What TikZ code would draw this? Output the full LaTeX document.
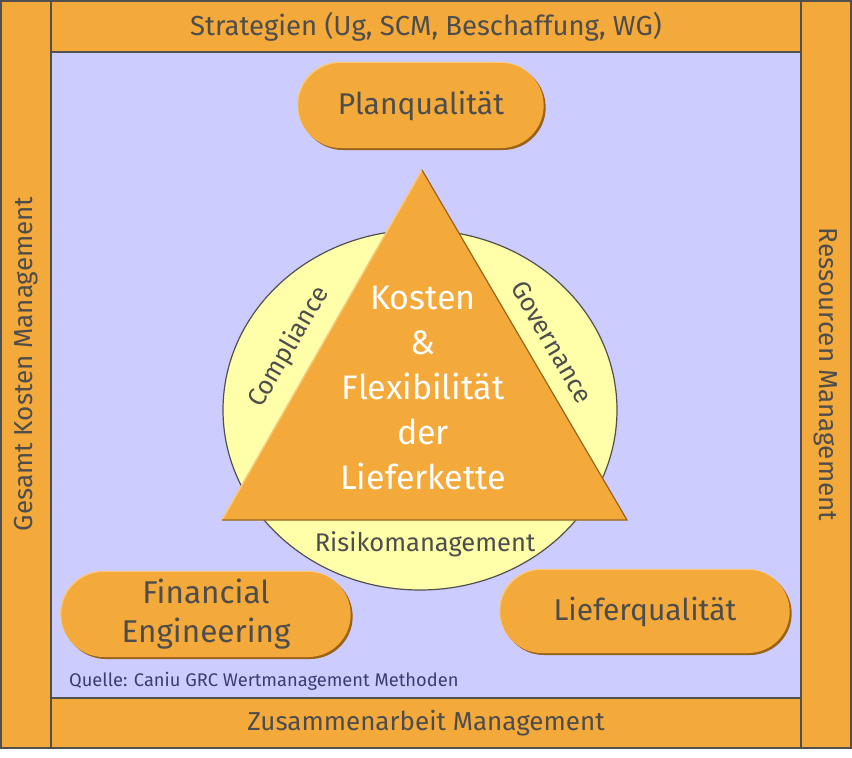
\documentclass[tikz,border=0pt]{standalone}
\usepackage{fontspec}
\setmainfont{Fira Sans}
\usetikzlibrary{positioning, shapes.geometric, shapes.misc, shadows}

\definecolor{panel}{HTML}{CCCCFF}
\definecolor{barorange}{HTML}{F4A93B}
\definecolor{lightorange}{HTML}{F9C878}
\definecolor{darkbrown}{HTML}{9A6418}
\definecolor{ringyellow}{HTML}{FFFFAA}
\definecolor{linegray}{HTML}{505050}
\definecolor{textgray}{HTML}{4D4D4D}
\definecolor{notecolor}{HTML}{3C3C6E}

\begin{document}
\begin{tikzpicture}[
    x = 1pt, y = -1pt,
    bar/.style = {rectangle, draw = linegray, line width = 1.8pt, fill = barorange,
                  text = textgray, font = \fontsize{26}{30}\selectfont, inner sep = 0pt},
    pill/.style = {rounded rectangle, fill = barorange, text = textgray, align = center,
                   font = \fontsize{30}{39}\selectfont,
                   general shadow = {shadow xshift = -1.2pt, shadow yshift = 1.2pt, fill = lightorange},
                   drop shadow = {shadow xshift = 2pt, shadow yshift = -2pt, fill = darkbrown, opacity = 1}},
    side/.style = {text = textgray, font = \fontsize{25.5}{28}\selectfont, inner sep = 0pt}
]

\useasboundingbox (0,0) rectangle (852,758);

% Panel and frame
\fill[panel] (51,52) rectangle (801,698);
\node[bar, minimum width = 750pt, minimum height = 51pt,
      font = \fontsize{27.5}{30}\selectfont]                           (strat)  at (426,26.5)  {Strategien (Ug, SCM, Beschaffung, WG)};
\node[bar, minimum width = 750pt, minimum height = 50pt]              (team)   at (426,723)   {Zusammenarbeit Management};
\node[bar, rotate = 90,  minimum width = 747pt, minimum height = 50pt] (total)  at (26,374.5)  {};
\node[bar, rotate = -90, minimum width = 747pt, minimum height = 50pt] (res)    at (826,374.5) {Ressourcen Management};
\node[bar, rotate = 90, draw = none, fill = none]                     (totaltext) at (26,364) {Gesamt Kosten Management};

% Ring
\node[ellipse, draw = linegray, line width = 1.2pt, fill = ringyellow,
      minimum width = 394pt, minimum height = 360pt] (ring) at (420,410) {};

% Triangle
\coordinate (apex) at (422,170);
\coordinate (bl)   at (222,520);
\coordinate (br)   at (627,520);
\fill[barorange] (apex) -- (bl) -- (br) -- cycle;
\draw[lightorange, line width = 1.5pt] (bl) -- (apex);
\draw[darkbrown, line width = 1.2pt, line join = miter] (apex) -- (br) -- (bl);

\node[white, align = center, inner sep = 0pt, font = \fontsize{34}{45}\selectfont] (core) at (423,388)
    {Kosten\\\&\\Flexibilität\\der\\Lieferkette};

\node[side, rotate = 60]  (comp) at (289,347) {Compliance};
\node[side, rotate = -60] (gov)  at (552,342) {Governance};
\node[side]               (risk) at (425,544) {Risikomanagement};

% Pills
\node[pill, minimum width = 252pt, minimum height = 85pt] (plan) at (421,105.5) {Planqualität};
\node[pill, minimum width = 296pt, minimum height = 85pt,
      font = \fontsize{31.5}{39}\selectfont]               (fin)  at (206,614.5) {Financial\\Engineering};
\node[pill, minimum width = 296pt, minimum height = 83pt] (lief) at (645,611.5) {Lieferqualität};

% Source
\node[notecolor, anchor = west, inner sep = 0pt, font = \fontsize{18.3}{21}\selectfont] (src) at (69,681)
    {Quelle: Caniu GRC Wertmanagement Methoden};

\end{tikzpicture}
\end{document}
